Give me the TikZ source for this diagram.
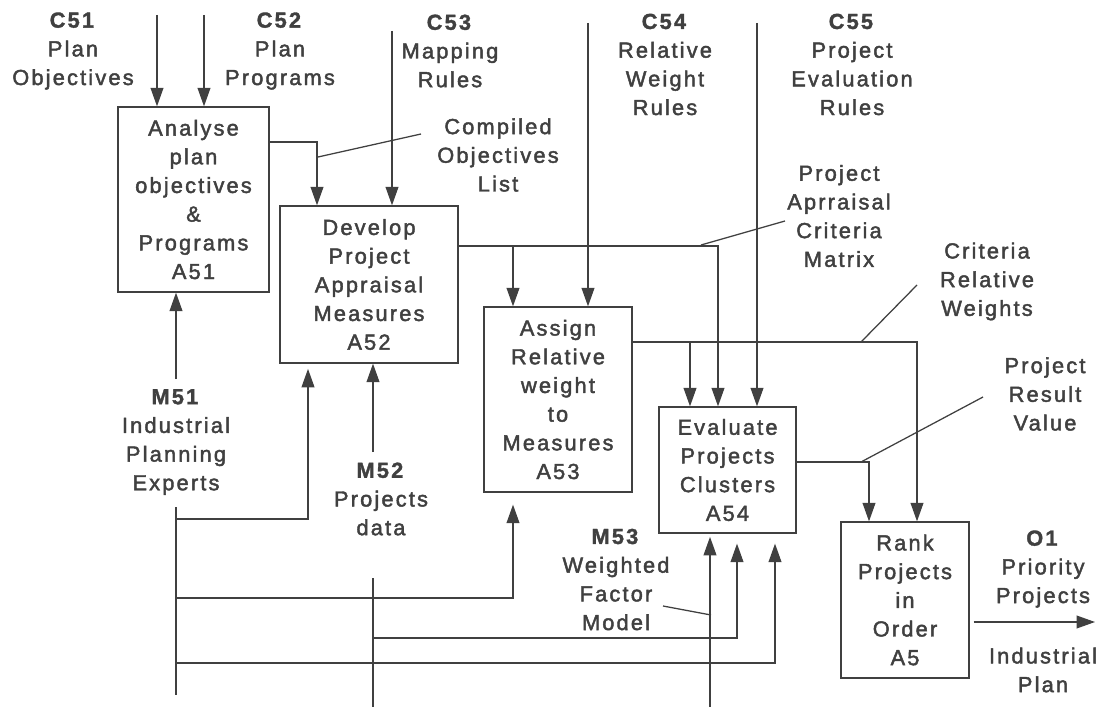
\documentclass[tikz,border=0pt]{standalone}
\usepackage{fontspec}
\setmainfont[LetterSpace=10,UprightFeatures={FakeBold=2},BoldFeatures={FakeBold=1.5}]{Liberation Sans}
\usepackage{tikz}
\usetikzlibrary{arrows.meta}
\definecolor{ink}{HTML}{404040}
\tikzset{
  box/.style={draw=ink,line width=0.9pt,align=center,inner sep=0pt},
  lbl/.style={align=center,inner sep=0pt},
  flow/.style={draw=ink,line width=0.9pt,-{Triangle[length=4.6mm,width=3.2mm]}},
  lead/.style={draw=ink,line width=0.9pt}
}

\begin{document}
\begin{tikzpicture}[x=0.025cm,y=-0.025cm,font=\fontsize{15.5}{20.4}\selectfont,text=ink]
  \useasboundingbox (0,0) rectangle (1108,707);
  \node[box,minimum width=3.775cm,minimum height=4.625cm] (A51) at (193.5,199.5) {Analyse\\plan\\objectives\\\&\\Programs\\A51};
  \node[box,minimum width=4.45cm,minimum height=3.925cm] (A52) at (369,284.5) {Develop\\Project\\Appraisal\\Measures\\A52};
  \node[box,minimum width=3.7cm,minimum height=4.625cm] (A53) at (558,399.5) {Assign\\Relative\\weight\\to\\Measures\\A53};
  \node[box,minimum width=3.425cm,minimum height=3.15cm] (A54) at (727.5,470) {Evaluate\\Projects\\Clusters\\A54};
  \node[box,minimum width=3.2cm,minimum height=3.9cm] (A5) at (905,600) {Rank\\Projects\\in\\Order\\A5};

  \node[lbl] (C51) at (73,51) {\textbf{C51}\\Plan\\Objectives};
  \node[lbl] (C52) at (280,51) {\textbf{C52}\\Plan\\Programs};
  \node[lbl] (C53) at (450,51) {\textbf{C53}\\Mapping\\Rules};
  \node[lbl] (C54) at (665,64.5) {\textbf{C54}\\Relative\\Weight\\Rules};
  \node[lbl] (C55) at (852,64.5) {\textbf{C55}\\Project\\Evaluation\\Rules};
  \node[lbl] (col) at (498,155) {Compiled\\Objectives\\List};
  \node[lbl] (pacm) at (839,216) {Project\\Aprraisal\\Criteria\\Matrix};
  \node[lbl] (crw) at (987,281.5) {Criteria\\Relative\\Weights};
  \node[lbl] (prv) at (1045,394) {Project\\Result\\Value};
  \node[lbl] (M51) at (176,442) {\textbf{M51}\\Industrial\\Planning\\Experts};
  \node[lbl] (M52) at (381,499) {\textbf{M52}\\Projects\\data};
  \node[lbl] (M53) at (616,579.5) {\textbf{M53}\\Weighted\\Factor\\Model};
  \node[lbl] (O1) at (1043,569) {\textbf{O1}\\Priority\\Projects};
  \node[lbl] (ip) at (1043,670) {Industrial\\Plan};

  \coordinate (c51) at (157,15);
  \coordinate (c52) at (204,15);
  \coordinate (c53) at (392,31);
  \coordinate (c54) at (588,23);
  \coordinate (c55) at (757,23);
  \draw[flow] (c51) -- (c51 |- A51.north);
  \draw[flow] (c52) -- (c52 |- A51.north);
  \draw[flow] (c53) -- (c53 |- A52.north);
  \draw[flow] (c54) -- (c54 |- A53.north);
  \draw[flow] (c55) -- (c55 |- A54.north);

  \coordinate (k1) at (317,142);
  \coordinate (k2) at (718,246);
  \coordinate (k3) at (513,246);
  \coordinate (k4) at (917,342);
  \coordinate (k5) at (690,342);
  \coordinate (k6) at (869,462);
  \coordinate (k7) at (1095,622);
  \draw[flow] (A51.east |- k1) -| (k1 |- A52.north);
  \draw[flow] (A52.east |- k2) -| (k2 |- A54.north);
  \draw[flow] (k3) -- (k3 |- A53.north);
  \draw[flow] (A53.east |- k4) -| (k4 |- A5.north);
  \draw[flow] (k5) -- (k5 |- A54.north);
  \draw[flow] (A54.east |- k6) -| (k6 |- A5.north);
  \draw[flow,shorten <=0.1cm] (A5.east |- k7) -- (k7);

  \draw[lead] (318,157) -- (421,134);
  \draw[lead] (701,245) -- (785,221);
  \draw[lead] (861,342) -- (917,285);
  \draw[lead] (861,462) -- (983,397);
  \draw[lead] (663,606) -- (711,615);

  \coordinate (m1) at (176,379);
  \coordinate (m2) at (176,507);
  \coordinate (m3) at (176,695);
  \coordinate (m4) at (373,452);
  \coordinate (m5) at (373,578);
  \coordinate (m6) at (373,707);
  \coordinate (m7) at (710,707);
  \coordinate (r1) at (308,519);
  \coordinate (r2) at (513,598);
  \coordinate (r3) at (775,663);
  \coordinate (r4) at (737,638);
  \draw[flow] (m1) -- (m1 |- A51.south);
  \draw[lead] (m2) -- (m3);
  \draw[flow,shorten >=0.13cm] (m2 |- r1) -| (r1 |- A52.south);
  \draw[flow,shorten >=0.3cm] (m2 |- r2) -| (r2 |- A53.south);
  \draw[flow,shorten >=0.25cm] (m2 |- r3) -| (r3 |- A54.south);
  \draw[flow] (m4) -- (m4 |- A52.south);
  \draw[lead] (m5) -- (m6);
  \draw[flow,shorten >=0.25cm] (m5 |- r4) -| (r4 |- A54.south);
  \draw[flow,shorten >=0.08cm] (m7) -- (m7 |- A54.south);
\end{tikzpicture}
\end{document}
